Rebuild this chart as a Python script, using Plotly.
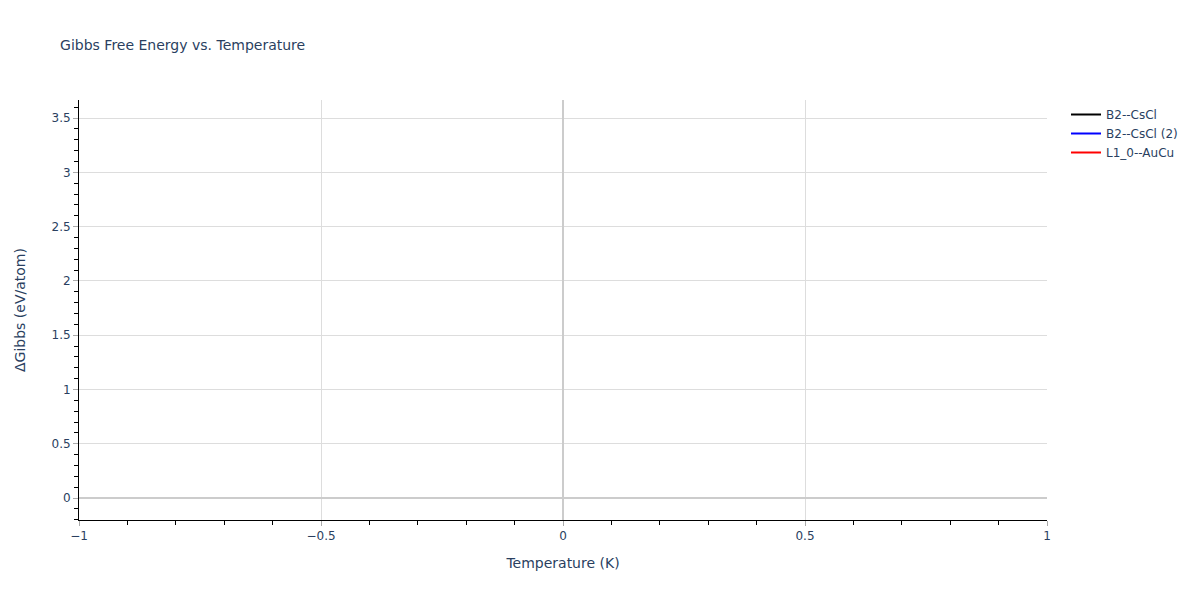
import plotly.graph_objects as go

# structure names and their Gibbs free energy curves
structures = ["B2--CsCl", "B2--CsCl (2)", "L1_0--AuCu"]
line_colors = ["black", "blue", "red"]
temperatures = [0.0]
delta_gibbs = [[0.0], [0.0], [3.46]]

font_family = "Verdana, DejaVu Sans, sans-serif"

fig = go.Figure()

for name, color, gibbs in zip(structures, line_colors, delta_gibbs):
    fig.add_trace(go.Scatter(x=temperatures, y=gibbs,
                             mode='lines',
                             name=name,
                             line={'color': color, 'width': 2}
                             ))

axis_style = dict(
    showline=True,
    linecolor='black',
    linewidth=1,
    ticks='outside',
    tickcolor='#aaaaaa',
    ticklen=5,
    showgrid=True,
    gridcolor='#dddddd',
    gridwidth=1,
    zeroline=True,
    zerolinecolor='#cccccc',
    zerolinewidth=2,
    minor={'ticks': 'outside', 'tickcolor': 'black', 'ticklen': 4, 'showgrid': False},
    tickfont={'size': 12, 'color': '#2a3f5f'},
    title_font={'size': 14, 'color': '#2a3f5f'},
)

fig.update_layout(
    width=1184,
    height=584,
    autosize=False,
    margin={'l': 71, 't': 92, 'b': 72, 'r': 145},
    template='plotly_white',
    font={'family': font_family, 'color': '#2a3f5f'},
    title={
        'text': 'Gibbs Free Energy vs. Temperature',
        'font': {'size': 14},
        'x': 0.044,
        'xanchor': 'left',
        'y': 0.9366,
        'yanchor': 'middle',
    },
    xaxis_title="Temperature (K)",
    legend={'font': {'size': 12}, 'xref': 'container', 'x': 0.8936,
            'xanchor': 'left', 'y': 1, 'yanchor': 'top'},
    plot_bgcolor='white',
)
fig.update_xaxes(range=[-1, 1], dtick=0.5, minor_dtick=0.1, **axis_style)
fig.update_yaxes(range=[-0.2026, 3.666], dtick=0.5, minor_dtick=0.1, **axis_style)
fig.update_yaxes(title={'text': "ΔGibbs (eV/atom)", 'standoff': 22})

fig.write_html("out.html")
